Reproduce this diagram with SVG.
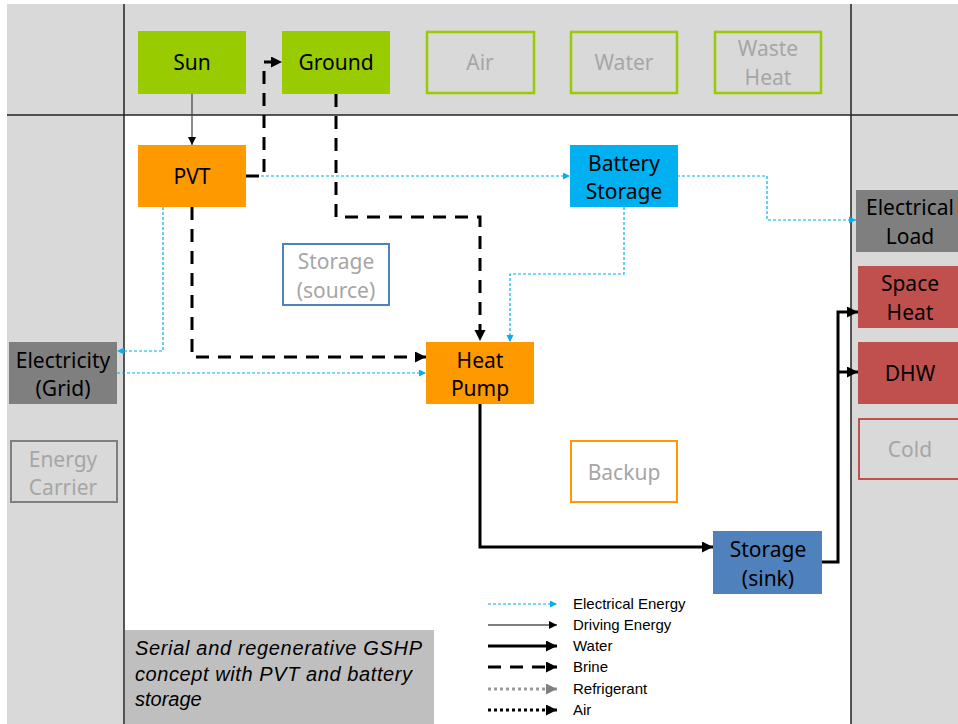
<svg xmlns="http://www.w3.org/2000/svg" width="958" height="724" viewBox="0 0 958 724">
<style>
.t{font-family:"Noto Sans","Open Sans",sans-serif;font-size:21px;text-anchor:middle;dominant-baseline:central;fill:#000}
.g{fill:#a6a6a6}
.lg{font-family:"Liberation Sans",Arial,sans-serif;font-size:15px;fill:#000}
.cap{font-family:"Liberation Sans",Arial,sans-serif;font-size:20px;font-style:italic;fill:#000}
.el{fill:none;stroke:#00b0f0;stroke-width:1.2;stroke-dasharray:3 2}
.br{fill:none;stroke:#000;stroke-width:3;stroke-dasharray:13 9}
.wa{fill:none;stroke:#000;stroke-width:3}
.dr{fill:none;stroke:#404040;stroke-width:1.2}
</style>
<defs>
<marker id="aE" markerUnits="userSpaceOnUse" markerWidth="8" markerHeight="8" refX="7" refY="3.5" orient="auto"><path d="M0,0 L7,3.5 L0,7 z" fill="#00b0f0"/></marker>
<marker id="aK" markerUnits="userSpaceOnUse" markerWidth="12" markerHeight="12" refX="11" refY="5.5" orient="auto"><path d="M0,0 L11,5.5 L0,11 z" fill="#000"/></marker>
<marker id="aT" markerUnits="userSpaceOnUse" markerWidth="9" markerHeight="9" refX="8" refY="4" orient="auto"><path d="M0,0 L8,4 L0,8 z" fill="#000"/></marker>
<marker id="aG" markerUnits="userSpaceOnUse" markerWidth="12" markerHeight="12" refX="11" refY="5.5" orient="auto"><path d="M0,0 L11,5.5 L0,11 z" fill="#808080"/></marker>
</defs>
<rect width="958" height="724" fill="#fff"/>
<g id="background">
<rect x="7" y="4" width="951" height="720" fill="#d9d9d9"/>
<rect x="124" y="115" width="727" height="609" fill="#fff"/>
<line x1="124" y1="4" x2="124" y2="724" stroke="#222" stroke-width="1.5"/>
<line x1="851" y1="4" x2="851" y2="724" stroke="#222" stroke-width="1.5"/>
<line x1="7" y1="115" x2="958" y2="115" stroke="#222" stroke-width="1.5"/>
</g>
<g id="connectors">
<line class="dr" x1="192" y1="94" x2="192" y2="145" marker-end="url(#aT)"/>
<polyline class="el" points="246,176 570,176" marker-end="url(#aE)"/>
<polyline class="br" points="246,176 264,176 264,62 282,62" marker-end="url(#aK)"/>
<polyline class="br" points="336,94 336,217 480,217 480,341" marker-end="url(#aK)"/>
<polyline class="br" points="192,207 192,357 426,357" marker-end="url(#aK)"/>
<polyline class="el" points="677,176 767,176 767,220 856,220" marker-end="url(#aE)"/>
<polyline class="el" points="624,207 624,274 510,274 510,342" marker-end="url(#aE)"/>
<polyline class="el" points="163,207 163,351 117,351" marker-end="url(#aE)"/>
<polyline class="el" points="117,373 426,373" marker-end="url(#aE)"/>
<polyline class="wa" points="480,404 480,547 713,547" marker-end="url(#aK)"/>
<polyline class="wa" points="822,562 838,562 838,312 858,312" marker-end="url(#aK)"/>
<polyline class="wa" points="838,372 858,372" marker-end="url(#aK)"/>
</g>
<g id="sun"><rect x="138" y="31" width="108" height="63" fill="#99cc00"/><text class="t" x="192" y="62">Sun</text></g>
<g id="ground"><rect x="282" y="31" width="108" height="63" fill="#99cc00"/><text class="t" x="336" y="62">Ground</text></g>
<g id="air"><rect x="427" y="32" width="107" height="61" fill="none" stroke="#99cc00" stroke-width="2.5"/><text class="t g" x="480" y="62">Air</text></g>
<g id="water"><rect x="571" y="32" width="106" height="61" fill="none" stroke="#99cc00" stroke-width="2.5"/><text class="t g" x="624" y="62">Water</text></g>
<g id="waste-heat"><rect x="715" y="32" width="106" height="61" fill="none" stroke="#99cc00" stroke-width="2.5"/><text class="t g" x="768" y="48">Waste</text><text class="t g" x="768" y="77">Heat</text></g>
<g id="pvt"><rect x="138" y="145" width="108" height="62" fill="#ff9900"/><text class="t" x="192" y="176">PVT</text></g>
<g id="battery-storage"><rect x="570" y="145" width="108" height="62" fill="#00b0f0"/><text class="t" x="624" y="163">Battery</text><text class="t" x="624" y="191">Storage</text></g>
<g id="electrical-load"><rect x="856" y="190" width="104" height="62" fill="#7f7f7f"/><text class="t" x="910" y="207">Electrical</text><text class="t" x="910" y="236">Load</text></g>
<g id="space-heat"><rect x="858" y="266" width="102" height="62" fill="#c0504d"/><text class="t" x="910" y="283">Space</text><text class="t" x="910" y="312">Heat</text></g>
<g id="dhw"><rect x="858" y="342" width="102" height="62" fill="#c0504d"/><text class="t" x="910" y="373">DHW</text></g>
<g id="cold"><rect x="859" y="419" width="102" height="60" fill="none" stroke="#c0504d" stroke-width="2"/><text class="t g" x="910" y="449">Cold</text></g>
<g id="storage-source"><rect x="283" y="244" width="106" height="61" fill="none" stroke="#4f81bd" stroke-width="2"/><text class="t g" x="336" y="261">Storage</text><text class="t g" x="336" y="290">(source)</text></g>
<g id="heat-pump"><rect x="426" y="342" width="108" height="62" fill="#ff9900"/><text class="t" x="480" y="360">Heat</text><text class="t" x="480" y="388">Pump</text></g>
<g id="electricity-grid"><rect x="9" y="342" width="108" height="62" fill="#7f7f7f"/><text class="t" x="63" y="360">Electricity</text><text class="t" x="63" y="388">(Grid)</text></g>
<g id="energy-carrier"><rect x="11" y="441" width="106" height="61" fill="none" stroke="#7f7f7f" stroke-width="2"/><text class="t g" x="63" y="459">Energy</text><text class="t g" x="63" y="487">Carrier</text></g>
<g id="backup"><rect x="571" y="441" width="106" height="61" fill="none" stroke="#ff9900" stroke-width="2"/><text class="t g" x="624" y="472">Backup</text></g>
<g id="storage-sink"><rect x="713" y="531" width="109" height="63" fill="#4f81bd"/><text class="t" x="768" y="549">Storage</text><text class="t" x="768" y="578">(sink)</text></g>
<g id="caption">
<rect x="125" y="630" width="309" height="94" fill="#bfbfbf"/>
<text class="cap" x="135" y="655" textLength="287" lengthAdjust="spacing">Serial and regenerative  GSHP</text>
<text class="cap" x="135" y="681" textLength="277" lengthAdjust="spacing">concept with PVT and battery</text>
<text class="cap" x="135" y="706">storage</text>
</g>
<g id="legend">
<line class="el" x1="488" y1="604" x2="557" y2="604" marker-end="url(#aE)"/>
<line x1="488" y1="625" x2="557" y2="625" stroke="#000" stroke-width="1.2" marker-end="url(#aT)"/>
<line class="wa" x1="488" y1="646" x2="557" y2="646" marker-end="url(#aK)"/>
<line class="br" x1="488" y1="667" x2="557" y2="667" marker-end="url(#aK)"/>
<line x1="488" y1="689" x2="557" y2="689" stroke="#999" stroke-width="3" stroke-dasharray="3 3" marker-end="url(#aG)"/>
<line x1="488" y1="710" x2="557" y2="710" stroke="#000" stroke-width="3" stroke-dasharray="3 3" marker-end="url(#aK)"/>
<text class="lg" x="573" y="609">Electrical Energy</text>
<text class="lg" x="573" y="630">Driving Energy</text>
<text class="lg" x="573" y="651">Water</text>
<text class="lg" x="573" y="672">Brine</text>
<text class="lg" x="573" y="694">Refrigerant</text>
<text class="lg" x="573" y="715">Air</text>
</g>
</svg>
